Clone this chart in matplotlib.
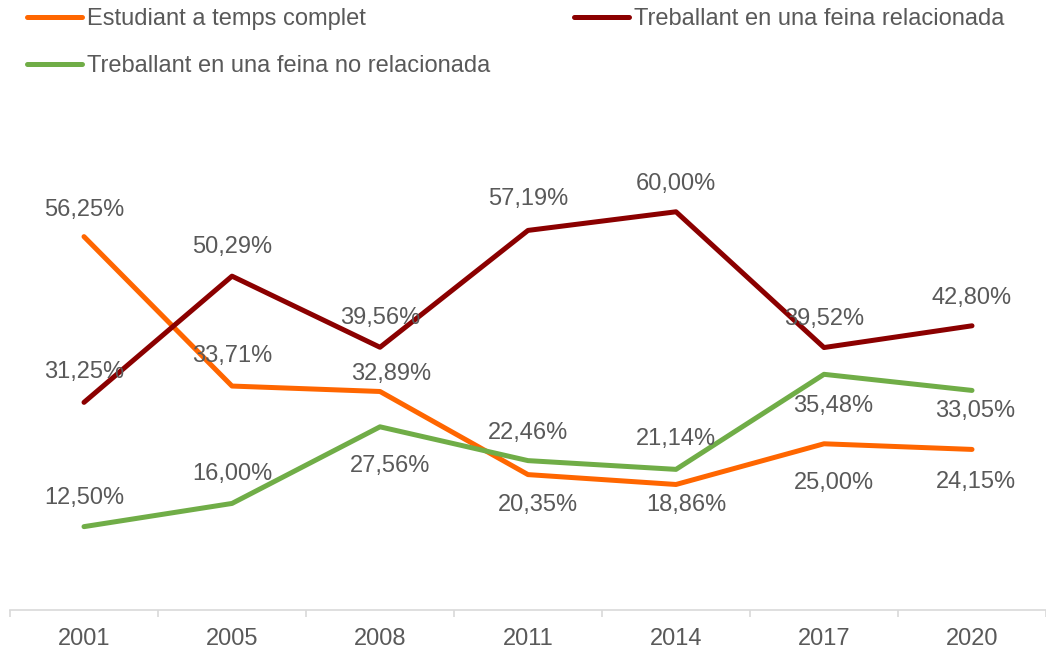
import numpy as np
import matplotlib
matplotlib.use("Agg")
import matplotlib.pyplot as plt

plt.rcParams["font.family"] = ["Liberation Sans", "DejaVu Sans"]

years = ["2001", "2005", "2008", "2011", "2014", "2017", "2020"]
full_time_student = [56.25, 33.71, 32.89, 20.35, 18.86, 25.00, 24.15]
related_job = [31.25, 50.29, 39.56, 57.19, 60.00, 39.52, 42.80]
unrelated_job = [12.50, 16.00, 27.56, 22.46, 21.14, 35.48, 33.05]

# label offsets in pixels (dx, dy) relative to each point
off_student = [(0, 27), (0, 30), (11, 17), (10, -30), (10, -21), (10, -39), (4, -33)]
off_related = [(0, 30), (0, 29), (0, 29), (0, 31), (0, 28), (0, 29), (0, 28)]
off_unrelated = [(0, 29), (0, 29), (10, -39), (0, 28), (0, 30), (9, -32), (3, -21)]

text_color = "#595959"
fs = 17

fig = plt.figure(figsize=(10.46, 6.49), dpi=100)
ax = fig.add_axes([10 / 1046, (649 - 609.5) / 649, 1036 / 1046, 464 / 649])

x = np.arange(len(years))
series = [
    ("Estudiant a temps complet", full_time_student, "#FF6600", off_student),
    ("Treballant en una feina no relacionada", unrelated_job, "#70AD47", off_unrelated),
    ("Treballant en una feina relacionada", related_job, "#8B0000", off_related),
]

handles = []
for name, vals, col, offs in series:
    (ln,) = ax.plot(x, vals, color=col, lw=3.6, label=name, solid_capstyle="round")
    handles.append(ln)
    for xi, v, (dx, dy) in zip(x, vals, offs):
        ax.annotate(f"{v:.2f}%".replace(".", ","), (xi, v), xytext=(dx, dy),
                    textcoords="offset pixels", ha="center", va="center",
                    fontsize=fs, color=text_color)

ax.set_xlim(-0.5, len(years) - 0.5)
ax.set_ylim(0, 70)
ax.set_xticks(x)
ax.set_xticklabels(years)
ax.set_xticks(np.arange(-0.5, len(years), 1.0), minor=True)
ax.tick_params(axis="x", which="major", length=0, pad=13, labelsize=fs, labelcolor=text_color)
ax.tick_params(axis="x", which="minor", length=5, color="#D9D9D9", width=1.2)
ax.set_yticks([])
for s in ["top", "left", "right"]:
    ax.spines[s].set_visible(False)
ax.spines["bottom"].set_color("#D9D9D9")
ax.spines["bottom"].set_linewidth(1.2)

fig.legend(handles=handles, labels=[h.get_label() for h in handles],
           ncol=2, loc="upper left", bbox_to_anchor=(27 / 1046, 1 - 8 / 649),
           frameon=False, fontsize=fs, labelcolor=text_color,
           handlelength=2.35, handletextpad=0.2, columnspacing=3.53,
           labelspacing=1.08, borderaxespad=0.0, borderpad=0.0)

fig.savefig("out.png", dpi=100)
